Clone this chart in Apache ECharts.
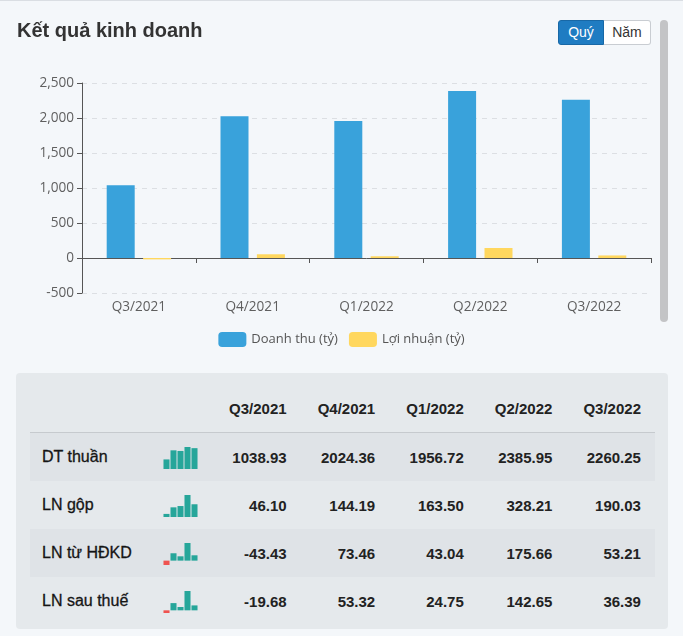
<!DOCTYPE html>
<html>
<head>
<meta charset="utf-8">
<script src="https://cdn.jsdelivr.net/npm/echarts@6/dist/echarts.min.js"></script>
<style>
  html, body { margin: 0; padding: 0; }
  body { width: 683px; height: 636px; background: #f4f7fa; position: relative; overflow: hidden; font-family: Arial, "Liberation Sans", sans-serif; }
  #topline { position: absolute; left: 0; top: 0; width: 683px; height: 1px; background: #dadee3; }
  #chart { position: absolute; left: 0; top: 0; width: 683px; height: 360px; }
  #btns { position: absolute; left: 558px; top: 20px; display: flex; height: 25px; }
  .btn { box-sizing: border-box; height: 25px; line-height: 23px; font-size: 14px; padding: 0 7px; border: 1px solid #c9cdd2; }
  .btn.on { background: #1f7cc2; color: #fff; border-color: #1868a6; border-radius: 3px 0 0 3px; width: 46px; text-align: center; }
  .btn.off { background: #fff; color: #333; border-left: none; border-radius: 0 3px 3px 0; width: 47px; text-align: center; }
  #scroll { position: absolute; left: 660px; top: 20px; width: 8px; height: 302px; border-radius: 4px; background: #c3c4c6; }
  #panel { position: absolute; left: 16px; top: 373px; width: 652px; height: 256px; background: #e5e9ec; border-radius: 4px; }
  #tbl { position: absolute; left: 14px; top: 12px; width: 625px; }
  .row { position: relative; height: 48px; display: flex; align-items: center; }
  .row.head { height: 47px; border-bottom: 1px solid #c6cace; }
  .row.band { background: #dfe3e7; }
  .lab { width: 128px; box-sizing: border-box; padding-left: 12px; font-size: 16px; color: #151515; -webkit-text-stroke: 0.3px #151515; }
  .spk { width: 54px; height: 48px; position: relative; }
  .spk .sc { position: absolute; left: 5px; top: 14px; width: 35px; height: 22px; }
  .num { width: 88.6px; box-sizing: border-box; padding-right: 14px; text-align: right; font-size: 15px; font-weight: bold; color: #222; }
</style>
</head>
<body>
<div id="topline"></div>
<div id="chart"></div>
<div id="btns"><div class="btn on">Quý</div><div class="btn off">Năm</div></div>
<div id="scroll"></div>
<div id="panel"><div id="tbl"></div></div>
<script>
// ---- data ----
const periods = ["Q3/2021", "Q4/2021", "Q1/2022", "Q2/2022", "Q3/2022"];
const dtThuan = [1038.93, 2024.36, 1956.72, 2385.95, 2260.25];
const lnGop = [46.10, 144.19, 163.50, 328.21, 190.03];
const lnHdkd = [-43.43, 73.46, 43.04, 175.66, 53.21];
const lnSauThue = [-19.68, 53.32, 24.75, 142.65, 36.39];
const rowLabels = ["DT thuần", "LN gộp", "LN từ HĐKD", "LN sau thuế"];
const yTicks = { min: -500, max: 2500, interval: 500 };
const seriesNames = ["Doanh thu (tỷ)", "Lợi nhuận (tỷ)"];

// ---- main chart ----
const labelFont = '"Open Sans", sans-serif';
const chart = echarts.init(document.getElementById('chart'), null, { renderer: 'canvas' });
chart.setOption({
  animation: false,
  title: {
    text: 'Kết quả kinh doanh', left: 17, top: 21, padding: 0,
    textStyle: { fontFamily: 'Arial, "Liberation Sans", sans-serif', fontSize: 20, fontWeight: 'bold', color: '#333' }
  },
  legend: {
    top: 327, left: 'center', itemWidth: 28, itemHeight: 15, itemGap: 11, icon: 'roundRect',
    textStyle: { fontFamily: labelFont, fontSize: 13, color: '#555' },
    data: seriesNames
  },
  grid: { left: 82, right: 32, top: 83, bottom: 67 },
  xAxis: [
    {
      type: 'category', data: periods, position: 'bottom',
      axisLine: { onZero: true, lineStyle: { color: '#555', width: 1 } },
      axisTick: { show: true, length: 5, lineStyle: { color: '#555' } },
      axisLabel: { show: false }
    },
    {
      type: 'category', data: periods, position: 'bottom',
      axisLine: { show: false }, axisTick: { show: false },
      axisLabel: { color: '#5f5f5f', fontFamily: labelFont, fontSize: 13.6, margin: 7 }
    }
  ],
  yAxis: {
    type: 'value', min: yTicks.min, max: yTicks.max, interval: yTicks.interval,
    axisLine: { show: true, lineStyle: { color: '#555' } },
    axisTick: { show: true, length: 5, lineStyle: { color: '#555' } },
    axisLabel: { color: '#5f5f5f', fontFamily: labelFont, fontSize: 13.6, margin: 8 },
    splitLine: { lineStyle: { type: [5, 5], color: '#dcdfe3' } }
  },
  series: [
    { name: seriesNames[0], type: 'bar', data: dtThuan, barWidth: 28, barGap: '30%', itemStyle: { color: '#39a2db' } },
    { name: seriesNames[1], type: 'bar', data: lnSauThue, barWidth: 28, itemStyle: { color: '#ffd75e' } }
  ]
});

// ---- table ----
const tbl = document.getElementById('tbl');
const fmt = v => v.toFixed(2);
let head = '<div class="row head"><div class="lab"></div><div class="spk"></div>';
periods.forEach(p => head += '<div class="num">' + p + '</div>');
head += '</div>';
tbl.innerHTML = head;
const rowsData = [dtThuan, lnGop, lnHdkd, lnSauThue];
rowsData.forEach((vals, i) => {
  const row = document.createElement('div');
  row.className = 'row' + (i % 2 === 0 ? ' band' : '');
  let h = '<div class="lab">' + rowLabels[i] + '</div><div class="spk"><div class="sc" id="sc' + i + '"></div></div>';
  vals.forEach(v => h += '<div class="num">' + fmt(v) + '</div>');
  row.innerHTML = h;
  tbl.appendChild(row);
  const sc = echarts.init(document.getElementById('sc' + i));
  const mn = Math.min(0, ...vals), mx = Math.max(...vals);
  sc.setOption({
    animation: false,
    grid: { left: 0, right: 0, top: 0, bottom: 0 },
    xAxis: { type: 'category', data: periods, show: false },
    yAxis: { type: 'value', min: mn, max: mx, show: false },
    series: [{
      type: 'bar', data: vals, barCategoryGap: '14%',
      itemStyle: { color: p => p.value < 0 ? '#ef5350' : '#26a69a' }
    }]
  });
});
</script>
</body>
</html>
